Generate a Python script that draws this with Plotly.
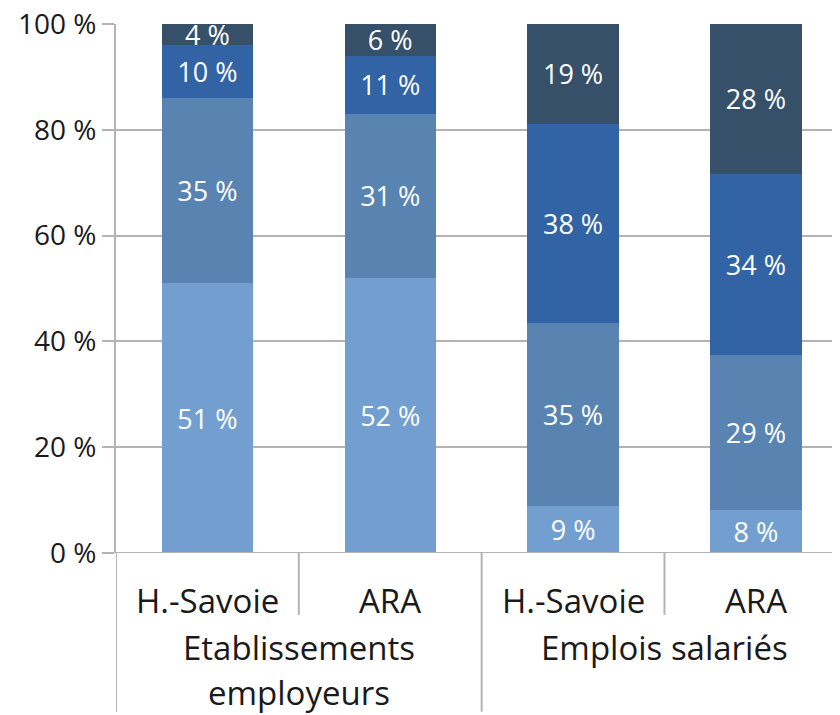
import plotly.graph_objects as go

categories = ["H.-Savoie", "ARA", "H.-Savoie", "ARA"]
group_lines = [["Etablissements", "employeurs"], ["Emplois salariés"]]
seg1 = [51, 52, 9, 8]
seg2 = [35, 31, 35, 29]
seg3 = [10, 11, 38, 34]
seg4 = [4, 6, 19, 28]
colors = ["#729fcf", "#5983b0", "#3163a5", "#36506a"]
ytick_vals = [0, 20, 40, 60, 80, 100]
ytick_text = [f"{v} %" for v in ytick_vals]

FONT = "Open Sans"
x = list(range(len(categories)))

fig = go.Figure()
for vals, col in zip([seg1, seg2, seg3, seg4], colors):
    fig.add_trace(go.Bar(
        x=x, y=vals, marker=dict(color=col, line=dict(width=0)),
        width=0.5,
        text=[f"{v} %" for v in vals],
        textposition="inside", insidetextanchor="middle",
        textfont=dict(color="white", size=27, family=FONT),
        showlegend=False, hoverinfo="skip", cliponaxis=False,
    ))

grid = "#b3b3b3"
fig.update_layout(
    width=832, height=707,
    margin=dict(l=108, r=0, t=16, b=162, autoexpand=False),
    paper_bgcolor="white", plot_bgcolor="white",
    barmode="stack", barnorm="percent", bargap=0.5,
    uniformtext=dict(minsize=27, mode="show"),
    font=dict(family=FONT, color="#1a1a1a"),
    xaxis=dict(range=[-0.5, 3.46], tickvals=x, ticktext=categories,
               showticklabels=False, showgrid=False, zeroline=False,
               showline=False, fixedrange=True, automargin=False),
    yaxis=dict(range=[0, 100], tickvals=ytick_vals, ticktext=ytick_text,
               ticklabeloverflow="allow",
               showgrid=True, gridcolor=grid, gridwidth=2,
               ticks="outside", ticklen=12, tickcolor=grid, tickwidth=2,
               showline=True, linecolor=grid, linewidth=2, automargin=False,
               zeroline=False, tickfont=dict(size=28, family=FONT, color="#1a1a1a")),
)

# category labels
for xi, lab in zip(x, categories):
    fig.add_annotation(x=xi, y=-0.089, xref="x", yref="paper", text=lab,
                       showarrow=False, font=dict(size=33, family=FONT, color="#1a1a1a"),
                       yanchor="middle")
# group labels (one annotation per line)
line_y = [-0.178, -0.263]
for gi, lines in enumerate(group_lines):
    for li, lab in enumerate(lines):
        fig.add_annotation(x=2 * gi + 0.5, y=line_y[li], xref="x", yref="paper", text=lab,
                           showarrow=False, font=dict(size=33, family=FONT, color="#1a1a1a"),
                           yanchor="middle", align="center")

# bottom axis line with tick to the left
fig.add_shape(type="line", xref="paper", yref="y", x0=-12 / 724, x1=1, y0=0, y1=0,
              line=dict(color=grid, width=2))
# inner dividers
for xv in [0.5, 2.5]:
    fig.add_shape(type="line", xref="x", yref="paper", x0=xv, x1=xv, y0=0, y1=-0.117,
                  line=dict(color=grid, width=2))
# group dividers
for xv in [-0.5, 1.5, 3.5]:
    fig.add_shape(type="line", xref="x", yref="paper", x0=xv, x1=xv, y0=0, y1=-0.30,
                  line=dict(color=grid, width=2))

fig.write_html("out.html")
